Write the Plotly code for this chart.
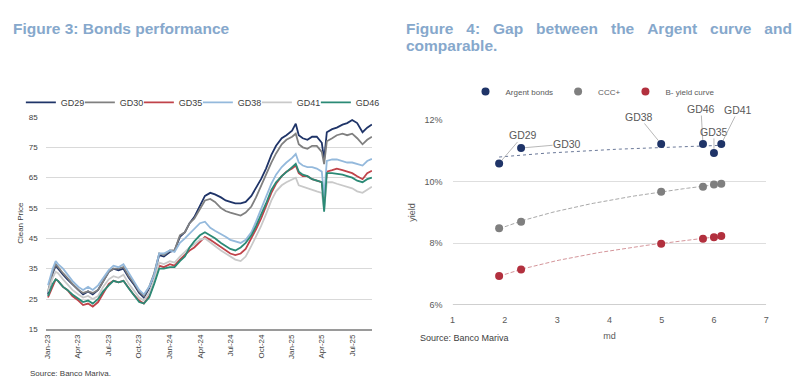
import numpy as np
import plotly.graph_objects as go

# ---------------- Figure 3 data (clean prices) ----------------
dates = ["2023-01-02","2023-01-16","2023-01-25","2023-02-01","2023-02-16","2023-03-01","2023-03-16",
         "2023-04-03","2023-04-17","2023-05-02","2023-05-16","2023-06-01","2023-06-16","2023-07-03",
         "2023-07-17","2023-08-01","2023-08-16","2023-09-01","2023-09-15","2023-10-02","2023-10-16",
         "2023-11-01","2023-11-16","2023-12-01","2023-12-15",
         "2024-01-02","2024-01-16","2024-02-01","2024-02-16","2024-03-01","2024-03-15","2024-04-01",
         "2024-04-16","2024-05-02","2024-05-16","2024-06-03","2024-06-17","2024-07-01","2024-07-16",
         "2024-08-01","2024-08-16","2024-09-02","2024-09-16","2024-10-01","2024-10-16","2024-11-01",
         "2024-11-15","2024-12-02","2024-12-16",
         "2025-01-02","2025-01-13","2025-01-22","2025-02-03","2025-02-17","2025-03-03","2025-03-17",
         "2025-04-01","2025-04-08","2025-04-16","2025-05-02","2025-05-16","2025-06-02","2025-06-16",
         "2025-07-01","2025-07-16","2025-08-01","2025-08-15","2025-08-29"]

gd29 = [26.5, 33.5, 36, 35, 33, 31.5, 30, 28, 26.5, 27.5, 26.5, 28, 31, 34, 35, 34.5, 35, 32, 30, 27, 25.5, 28.5, 33, 39.5, 39,
        40.5, 41, 45.5, 47, 50, 52, 56, 59, 60, 59.5, 58.5, 57.5, 57, 56.5, 56.5, 57, 59, 61.5, 64.5, 68, 72.5, 75.5, 78, 79,
        80.5, 82.8, 79, 78, 77.5, 78.5, 78.5, 76.5, 71, 80, 81, 81.5, 82.5, 83, 84, 83, 80, 81.5, 82.5]
gd30 = [27.5, 34, 36.5, 35.5, 33.5, 32, 30, 28, 27, 27.5, 27, 28, 31, 34, 35, 35, 35.5, 32.5, 30.5, 27.5, 26, 29, 33.5, 40, 39.5,
        41, 41, 46, 47, 50, 51.5, 54.5, 57.5, 58, 57, 55, 54, 53.5, 53, 52.5, 53.5, 55.5, 58.5, 62, 66, 70, 73, 76, 77.5,
        78.5, 79.5, 76, 75, 74.5, 75.5, 75.5, 73.5, 69.5, 77, 78, 79, 79.5, 79, 79.5, 78, 76, 77.5, 78.5]
gd35 = [25.5, 29.5, 31.5, 31, 29, 28, 26, 24.5, 23, 23.5, 22.5, 24, 27, 30, 31, 30.5, 31, 28.5, 26.5, 24.5, 23.5, 26, 30.5, 36, 35.5,
        36.5, 36, 38, 39.5, 41, 42, 44, 45.5, 44.5, 43.5, 42, 41, 40, 39.5, 40, 41.5, 45, 48, 51.5, 55.5, 60, 63, 65.5, 67,
        68, 69, 66.5, 65.5, 65.5, 64.5, 64, 63.5, 56.7, 67, 67.5, 68, 67.5, 67, 66.5, 65.5, 64.5, 66.5, 67.3]
gd38 = [29.5, 35, 37.5, 36.5, 35, 33, 31, 29, 28, 29, 28, 29.5, 32, 34.5, 36, 35.5, 36.5, 33.5, 31, 28, 26.5, 29, 33, 40, 40,
        41, 40.5, 43.5, 45, 46.5, 48, 50, 50.5, 48.5, 47.5, 46.5, 45.5, 44.5, 44, 43.5, 44.5, 47, 50.5, 54.5, 58.5, 63, 66, 68.5, 70,
        71.5, 72.8, 70, 69, 68.5, 68.5, 68, 67, 58.7, 70.5, 71, 71, 70.5, 70, 70, 69.5, 69, 70.5, 71.2]
gd41 = [27.5, 32, 34, 33.5, 31.5, 30, 28, 26.5, 25.5, 26, 25, 26, 29, 31.5, 32.5, 32, 33, 30, 28, 25.5, 24.5, 27, 31, 37, 36.5,
        37.5, 37, 39, 40.5, 42, 43, 44.5, 45, 43.5, 42.5, 41, 40, 39, 38, 37.5, 39, 42.5, 45.5, 49, 53, 57.5, 60.5, 62.5, 63.5,
        64.5, 65, 62.5, 62, 61.5, 61, 60.5, 60, 54.5, 63.5, 63.5, 63, 62.5, 62, 61.5, 60.5, 60, 61, 62]
gd46 = [26, 30, 31.5, 31, 29, 28, 26.5, 25, 24, 24.5, 23.5, 25, 27.5, 29.5, 31, 30.5, 31, 28.5, 26.5, 24, 23.5, 25.5, 30, 35, 35,
        35.5, 35.5, 37.5, 39, 42, 44, 46, 47, 46, 45, 43.5, 42.5, 41.5, 41, 42, 43.5, 46, 49, 52.5, 56.5, 61, 63.5, 65.5, 67,
        68.5, 69.6, 67, 66, 65.5, 64.5, 64, 63.5, 53.8, 66.5, 66.5, 66.3, 66, 65.5, 65, 64, 63.5, 64.5, 65]

series_names = ["GD29", "GD30", "GD35", "GD38", "GD41", "GD46"]
series_values = [gd29, gd30, gd35, gd38, gd41, gd46]

date_tickvals = ["2023-01-01","2023-04-01","2023-07-01","2023-10-01","2024-01-01","2024-04-01",
                 "2024-07-01","2024-10-01","2025-01-01","2025-04-01","2025-07-01"]
date_ticktext = ["Jan-23","Apr-23","Jul-23","Oct-23","Jan-24","Apr-24","Jul-24","Oct-24","Jan-25","Apr-25","Jul-25"]
price_ticks = [15, 25, 35, 45, 55, 65, 75, 85]

# ---------------- Figure 4 data (yield vs modified duration) ----------------
bond_names = ["GD29", "GD30", "GD38", "GD46", "GD35", "GD41"]
md = [1.89, 2.31, 4.99, 5.79, 6.00, 6.14]
argent_yield = [10.59, 11.09, 11.22, 11.22, 10.93, 11.22]
ccc_yield = [8.49, 8.70, 9.67, 9.83, 9.91, 9.93]
bminus_yield = [6.94, 7.15, 7.99, 8.15, 8.20, 8.24]
yield_ticks = [6, 8, 10, 12]
md_ticks = [1, 2, 3, 4, 5, 6, 7]

# ---------------- styles ----------------
FONT = "Liberation Sans, Arial, sans-serif"
TITLE_COLOR = "#86a8cc"
TEXT_COLOR = "#595959"
line_colors = {"GD29": "#1f3468", "GD30": "#808080", "GD35": "#c0434a",
               "GD38": "#94b9dc", "GD41": "#c9c9c9", "GD46": "#2b8a76"}

fig = go.Figure()

for name, vals in zip(series_names, series_values):
    fig.add_trace(go.Scatter(x=dates, y=vals, mode="lines", name=name,
                             line=dict(color=line_colors[name], width=1.8),
                             xaxis="x", yaxis="y", legend="legend"))
# empty spacer entry so the compact legend's last label is not clipped
fig.add_trace(go.Scatter(x=[None], y=[None], mode="lines", name="\u00a0",
                         line=dict(color="rgba(0,0,0,0)"), hoverinfo="skip",
                         xaxis="x", yaxis="y", legend="legend"))

# Figure 4 scatter + log trendlines (fitted from the points, as in the Excel chart)
groups = [("Argent bonds", argent_yield, "#1f3468", "#6a7898", "dot"),
          ("CCC+", ccc_yield, "#7f7f7f", "#a8a8a8", "4px,2px"),
          ("B- yield curve", bminus_yield, "#b2303e", "#d4959a", "4px,2px")]
md_arr = np.array(md)
md_line = np.linspace(md_arr.min(), md_arr.max(), 60)
for name, yv, col, tcol, dash in groups:
    b, a = np.polyfit(np.log(md_arr), np.array(yv), 1)
    fig.add_trace(go.Scatter(x=md_line, y=a + b * np.log(md_line), mode="lines",
                             line=dict(color=tcol, width=1, dash=dash), showlegend=False,
                             hoverinfo="skip", xaxis="x2", yaxis="y2"))
for name, yv, col, tcol, dash in groups:
    fig.add_trace(go.Scatter(x=md, y=yv, mode="markers", name=name,
                             marker=dict(color=col, size=8), xaxis="x2", yaxis="y2",
                             legend="legend2"))

label_offsets = {"GD29": (24, -28), "GD30": (46, -4), "GD38": (-22, -27),
                 "GD46": (-2, -35), "GD35": (0, -21), "GD41": (17, -34)}
annotations = []
for nm, xv, yv in zip(bond_names, md, argent_yield):
    ax, ay = label_offsets[nm]
    annotations.append(dict(x=xv, y=yv, xref="x2", yref="y2", text=nm, showarrow=True,
                            arrowhead=0, arrowwidth=0.8, arrowcolor="#a6a6a6", ax=ax, ay=ay,
                            standoff=4, borderpad=0,
                            font=dict(family=FONT, size=10.5, color=TEXT_COLOR)))

S = "\u00a0\u00a0\u00a0"
annotations += [
    dict(text="<b>Figure 3: Bonds performance</b>", x=8 / 800, y=1 - 24 / 385, xref="paper", yref="paper",
         xanchor="left", yanchor="middle", showarrow=False,
         font=dict(family=FONT, size=15.5, color=TITLE_COLOR)),
    dict(text="<b>Figure" + S + "4:" + S + "Gap" + S + "between" + S + "the" + S + "Argent" + S + "curve" + S + "and</b>",
         x=404 / 800, y=1 - 24 / 385, xref="paper", yref="paper",
         xanchor="left", yanchor="middle", showarrow=False,
         font=dict(family=FONT, size=15.5, color=TITLE_COLOR)),
    dict(text="<b>comparable.</b>", x=404 / 800, y=1 - 42 / 385, xref="paper", yref="paper",
         xanchor="left", yanchor="middle", showarrow=False,
         font=dict(family=FONT, size=15.5, color=TITLE_COLOR)),
    dict(text="Source: Banco Mariva.", x=25 / 800, y=1 - 378 / 385, xref="paper", yref="paper",
         xanchor="left", yanchor="middle", showarrow=False,
         font=dict(family=FONT, size=8, color="#404040")),
    dict(text="Source: Banco Mariva", x=418 / 800, y=1 - 342 / 385, xref="paper", yref="paper",
         xanchor="left", yanchor="middle", showarrow=False,
         font=dict(family=FONT, size=9, color="#404040")),
]

fig.update_layout(
    width=800, height=385, margin=dict(l=0, r=0, t=0, b=0),
    paper_bgcolor="white", plot_bgcolor="white",
    font=dict(family=FONT, color=TEXT_COLOR),
    annotations=annotations,
    xaxis=dict(domain=[43 / 800, 372 / 800], type="date",
               range=["2022-12-26", "2025-08-30"],
               tickvals=date_tickvals, ticktext=date_ticktext, tickangle=-90,
               tickfont=dict(size=8, color="#404040"), showgrid=False,
               showline=True, linecolor="#9a9a9a", linewidth=2, ticks="", anchor="y"),
    yaxis=dict(domain=[(385 - 333) / 385, (385 - 115) / 385], range=[15, 85],
               tickvals=price_ticks, tickfont=dict(size=8, color="#404040"),
               ticklabelstandoff=7,
               showgrid=True, gridcolor="#d9d9d9", gridwidth=1, zeroline=False,
               title=dict(text="Clean Price", font=dict(size=8, color="#404040"), standoff=3),
               anchor="x"),
    xaxis2=dict(domain=[453 / 800, 769 / 800], range=[1, 7], tickvals=md_ticks,
                tickfont=dict(size=9, color=TEXT_COLOR), showgrid=False, zeroline=False,
                showline=False, ticks="", anchor="y2", ticklabelstandoff=8,
                title=dict(text="md", font=dict(size=9, color=TEXT_COLOR), standoff=8)),
    yaxis2=dict(domain=[(385 - 308) / 385, (385 - 118) / 385], range=[6, 12],
                tickvals=yield_ticks, ticktext=[f"{v}%" for v in yield_ticks],
                tickfont=dict(size=9, color=TEXT_COLOR), showgrid=True, gridcolor="#dedede",
                gridwidth=1, zeroline=False, anchor="x2", ticklabelstandoff=9,
                title=dict(text="yield", font=dict(size=9, color=TEXT_COLOR), standoff=7)),
    legend=dict(orientation="h", x=18 / 800, y=1 - 85 / 385, xanchor="left", yanchor="top",
                font=dict(size=9, color="#404040"), itemwidth=30, bgcolor="rgba(0,0,0,0)",
                entrywidth=14, entrywidthmode="pixels", tracegroupgap=0),
    legend2=dict(orientation="h", x=466 / 800, y=1 - 74 / 385, xanchor="left", yanchor="top",
                 font=dict(size=8, color=TEXT_COLOR), itemwidth=30, bgcolor="rgba(0,0,0,0)"),
)

# darker bottom line on the right chart at 6%
fig.add_shape(type="line", xref="x2", yref="y2", x0=1, x1=7, y0=6, y1=6,
              line=dict(color="#bfbfbf", width=1.5), layer="below")

fig.write_html("out.html", config={"displayModeBar": False},
               post_script="document.body.style.margin='0px';document.body.style.overflow='hidden';")
